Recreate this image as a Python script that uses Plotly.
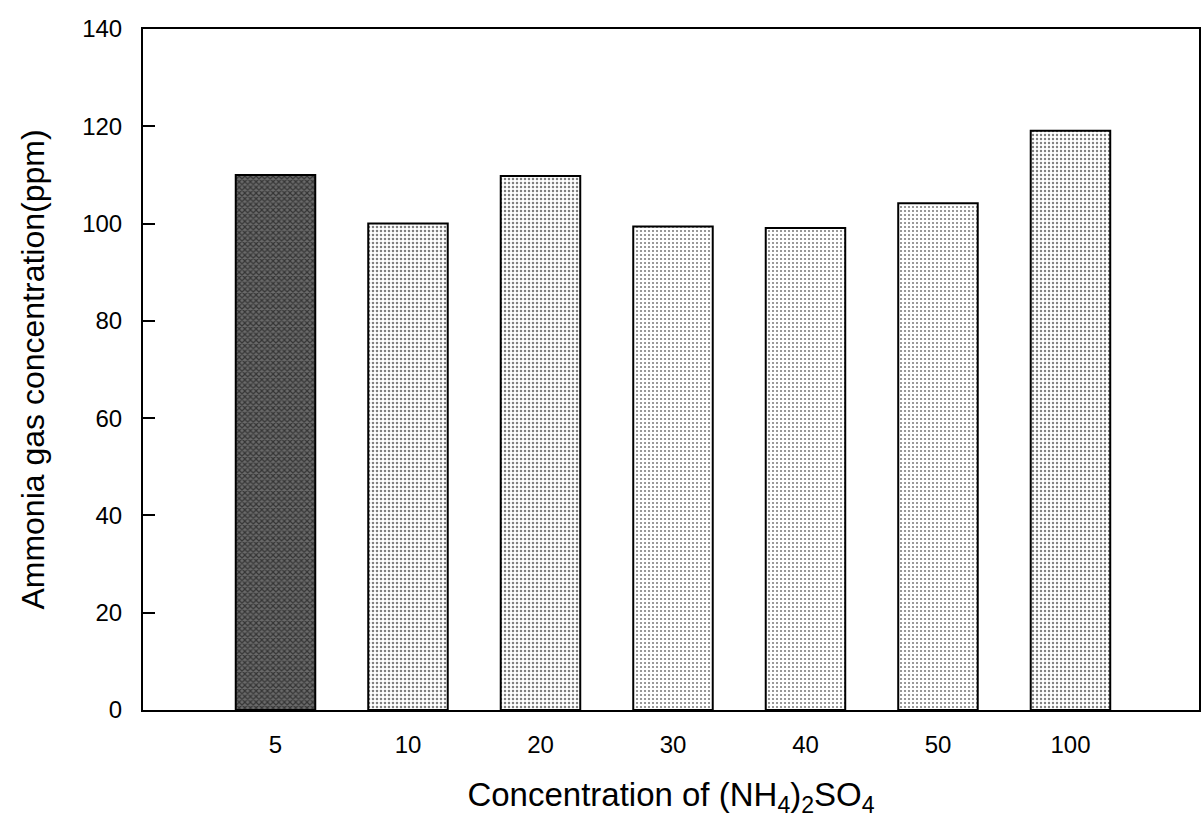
import plotly.graph_objects as go

categories = ["5", "10", "20", "30", "40", "50", "100"]
values = [110, 100, 109.8, 99.4, 99.1, 104.2, 119.1]
y_ticks = [0, 20, 40, 60, 80, 100, 120, 140]

shapes = ["x", ".", ".", ".", ".", ".", "."]
solidity = [0.5, 0.32, 0.3, 0.22, 0.22, 0.22, 0.27]
bgcolors = ["#6a6a6a", "white", "white", "white", "white", "white", "white"]

fig = go.Figure(go.Bar(
    x=categories, y=values, width=0.6,
    marker=dict(
        color="white",
        line=dict(color="black", width=2),
        pattern=dict(shape=shapes, solidity=solidity, size=4,
                     fgcolor="black", bgcolor=bgcolors, fillmode="overlay"),
    ),
))

font = "Liberation Sans"
fig.update_layout(
    width=1202, height=823,
    margin=dict(l=143, r=1, t=29, b=113),
    paper_bgcolor="white", plot_bgcolor="white",
    showlegend=False,
    font=dict(family=font, color="black"),
    xaxis=dict(
        type="category", range=[-1, 6.97],
        showline=True, linecolor="black", linewidth=2, mirror=True,
        ticks="outside", ticklen=12, tickcolor="rgba(0,0,0,0)",
        tickfont=dict(size=24, family=font),
        showgrid=False,
        title=dict(text="Concentration of (NH<sub>4</sub>)<sub>2</sub>SO<sub>4</sub>",
                   font=dict(size=33, family=font), standoff=26),
    ),
    yaxis=dict(
        range=[0, 140], tickvals=y_ticks,
        showline=True, linecolor="black", linewidth=2, mirror=True,
        ticks="inside", ticklen=12, tickwidth=2, tickcolor="black",
        tickfont=dict(size=24, family=font),
        ticklabelstandoff=14,
        showgrid=False, zeroline=False,
        title=dict(text="Ammonia gas concentration(ppm)",
                   font=dict(size=32, family=font), standoff=28),
    ),
)

fig.write_html("out.html")
